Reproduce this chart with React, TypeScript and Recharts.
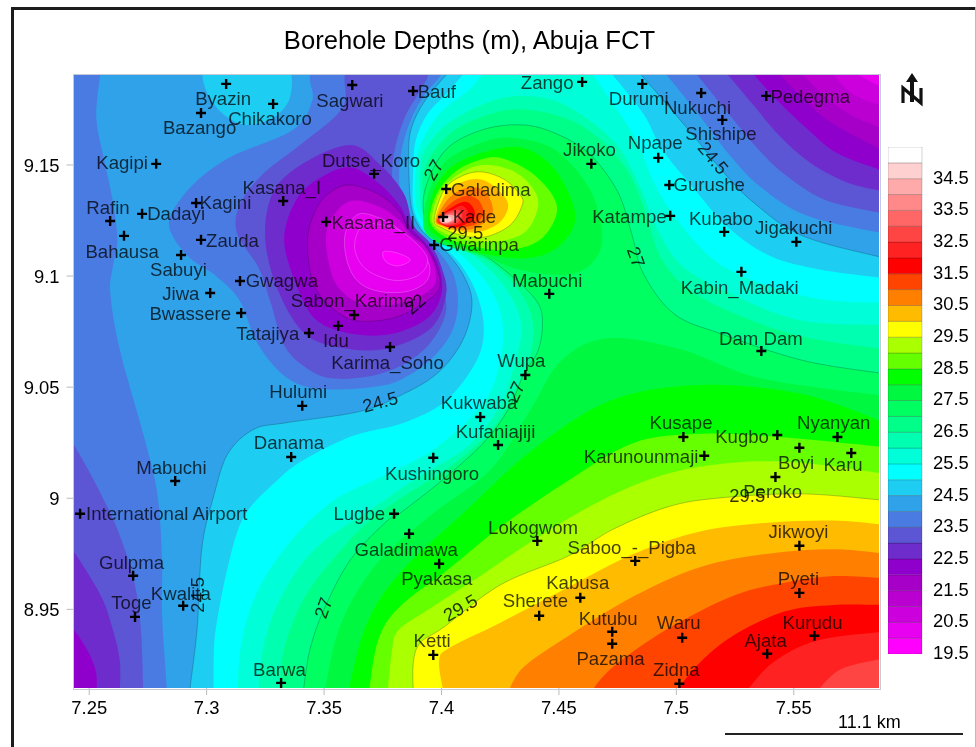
import * as React from 'react';
import { ScatterChart, Scatter, XAxis, YAxis, BarChart, Bar } from 'recharts';

type Pt = [number, number];

const FONT = '"Liberation Sans", Arial, sans-serif';

const lonTicks = [7.25, 7.3, 7.35, 7.4, 7.45, 7.5, 7.55];
const latTicks = [8.95, 9, 9.05, 9.1, 9.15];
const legendTicks = [19.5, 20.5, 21.5, 22.5, 23.5, 24.5, 25.5, 26.5, 27.5, 28.5, 29.5, 30.5, 31.5, 32.5, 33.5, 34.5];

// one colour per 0.5 m class, shallowest first
const classColors = [
  '#ff00ff', '#e800f0', '#cc00dd', '#b900d0', '#a600c8', '#9000cc', '#6f2ccc', '#5c55d4',
  '#4a7be2', '#30a2ea', '#1ecdf2', '#00ffff', '#00ffd8', '#00ffb0', '#00ff88', '#00ff60',
  '#00f840', '#00ff00', '#66ff00', '#aaff00', '#ffff00', '#ffbb00', '#ff8000', '#ff4400',
  '#ff0000', '#ff2222', '#ff4444', '#ff6666', '#ff8888', '#ffaaaa', '#ffd0d0', '#ffffff',
];

const siteNames = [
  'Byazin', 'Chikakoro', 'Bazango', 'Sagwari', 'Bauf', 'Zango', 'Durumi', 'Nukuchi', 'Shishipe', 'Pedegma',
  'Kagipi', 'Jikoko', 'Npape', 'Gurushe', 'Dutse_Koro', 'Kasana_I', 'Galadima', 'Kagini', 'Dadayi', 'Rafin',
  'Kasana_II', 'Kade', 'Katampe', 'Kubabo', 'Jigakuchi', 'Bahausa', 'Zauda', 'Gwarinpa', 'Sabuyi', 'Kabin_Madaki',
  'Gwagwa', 'Mabuchi', 'Jiwa', 'Sabon_Karimo', 'Bwassere', 'Idu', 'Tatajiya', 'Karima_Soho', 'Dam Dam', 'Wupa',
  'Hulumi', 'Kukwaba', 'Kufaniajiji', 'Kusape', 'Kugbo', 'Nyanyan', 'Boyi', 'Karu', 'Karunounmaji', 'Danama',
  'Kushingoro', 'Peroko', 'Mabuchi', 'International Airport', 'Lugbe', 'Galadimawa', 'Lokogwom', 'Jikwoyi', 'Saboo_-_Pigba', 'Pyakasa',
  'Gulpma', 'Kabusa', 'Pyeti', 'Sherete', 'Kwalita', 'Toge', 'Kutubu', 'Waru', 'Kurudu', 'Pazama',
  'Ketti', 'Ajata', 'Zidna', 'Barwa',
];
const siteLon = [
  7.3083, 7.3283, 7.2976, 7.362, 7.3879, 7.4599, 7.4855, 7.5106, 7.5196, 7.5383,
  7.2785, 7.4638, 7.4923, 7.497, 7.3713, 7.3326, 7.402, 7.2955, 7.2725, 7.2589,
  7.3509, 7.4007, 7.4974, 7.5204, 7.5511, 7.2648, 7.2976, 7.3969, 7.2891, 7.5277,
  7.3142, 7.4459, 7.3015, 7.3628, 7.3147, 7.356, 7.3436, 7.3781, 7.5362, 7.4357,
  7.3407, 7.4165, 7.4241, 7.503, 7.543, 7.5686, 7.5524, 7.5745, 7.5119, 7.336,
  7.3965, 7.5422, 7.2866, 7.2461, 7.3798, 7.3862, 7.4408, 7.5524, 7.4825, 7.399,
  7.2687, 7.4591, 7.5524, 7.4416, 7.29, 7.2695, 7.4727, 7.5025, 7.5588, 7.4727,
  7.3965, 7.5387, 7.5013, 7.3317,
];
const siteLat = [
  9.1865, 9.1775, 9.1734, 9.186, 9.1833, 9.1874, 9.1865, 9.1824, 9.1703, 9.1811,
  9.1505, 9.1505, 9.1532, 9.141, 9.146, 9.1338, 9.1392, 9.1329, 9.128, 9.1248,
  9.1244, 9.1266, 9.1271, 9.1199, 9.1154, 9.1181, 9.1163, 9.114, 9.1095, 9.1019,
  9.0978, 9.092, 9.0924, 9.0825, 9.0834, 9.0776, 9.0744, 9.0681, 9.0663, 9.0555,
  9.0416, 9.0366, 9.024, 9.0276, 9.0285, 9.0276, 9.0227, 9.0204, 9.0191, 9.0186,
  9.0182, 9.0096, 9.0078, 8.993, 8.993, 8.984, 8.9808, 8.9786, 8.9718, 8.9705,
  8.9651, 8.9552, 8.9574, 8.9471, 8.9516, 8.9466, 8.9399, 8.9372, 8.9381, 8.9345,
  8.9295, 8.93, 8.9165, 8.9169,
];
const labelLon = [
  7.307, 7.327, 7.297, 7.361, 7.398, 7.445, 7.484, 7.509, 7.519, 7.557,
  7.264, 7.463, 7.491, 7.514, 7.37, 7.332, 7.421, 7.308, 7.287, 7.258,
  7.371, 7.414, 7.48, 7.519, 7.55, 7.264, 7.311, 7.416, 7.288, 7.527,
  7.332, 7.445, 7.289, 7.362, 7.293, 7.355, 7.326, 7.377, 7.536, 7.434,
  7.339, 7.416, 7.423, 7.502, 7.528, 7.567, 7.551, 7.571, 7.485, 7.335,
  7.396, 7.541, 7.285, 7.283, 7.365, 7.385, 7.439, 7.552, 7.481, 7.398,
  7.268, 7.458, 7.552, 7.44, 7.289, 7.268, 7.471, 7.501, 7.558, 7.472,
  7.396, 7.538, 7.5, 7.331,
];
const labelLat = [
  9.18, 9.171, 9.167, 9.179, 9.183, 9.187, 9.18, 9.176, 9.164, 9.181,
  9.151, 9.157, 9.16, 9.141, 9.152, 9.14, 9.139, 9.133, 9.128, 9.131,
  9.124, 9.127, 9.127, 9.126, 9.122, 9.111, 9.116, 9.114, 9.103, 9.095,
  9.098, 9.098, 9.092, 9.089, 9.083, 9.071, 9.074, 9.061, 9.072, 9.062,
  9.048, 9.043, 9.03, 9.034, 9.028, 9.034, 9.016, 9.015, 9.019, 9.025,
  9.011, 9.003, 9.014, 8.993, 8.993, 8.977, 8.987, 8.985, 8.978, 8.964,
  8.971, 8.962, 8.964, 8.954, 8.957, 8.953, 8.946, 8.944, 8.944, 8.928,
  8.936, 8.936, 8.923, 8.923,
];

const contourTexts = ['27', '29.5', '22', '24.5', '27', '24.5', '27', '29.5', '29.5', '24.5', '27'];
const contourLon = [7.3965, 7.4101, 7.3888, 7.3739, 7.4314, 7.5157, 7.4829, 7.5302, 7.408, 7.2959, 7.3496];
const contourLat = [9.1478, 9.1195, 9.0875, 9.0434, 9.0479, 9.1532, 9.1086, 9.0011, 8.9507, 8.9565, 8.9507];
const contourAngles = [-60, 0, -40, -15, -65, 50, 70, 0, -30, -90, -70];

// map corners, a little outside the plot so the clip cuts them
const topLeft: Pt = [7.238, 9.198];
const topRight: Pt = [7.592, 9.198];
const bottomLeft: Pt = [7.238, 8.908];
const bottomRight: Pt = [7.592, 8.908];

// contours of the shallow side, [lon, lat]
const below25West: Pt[] = [[7.303, 8.912], [7.303, 8.927], [7.304, 8.942], [7.309, 8.969], [7.316, 8.992], [7.33, 9.008], [7.341, 9.017], [7.362, 9.028], [7.384, 9.034], [7.402, 9.044], [7.415, 9.062], [7.418, 9.077], [7.415, 9.092], [7.409, 9.104], [7.402, 9.112], [7.396, 9.116], [7.391, 9.123], [7.388, 9.132], [7.388, 9.148], [7.389, 9.161], [7.394, 9.173], [7.402, 9.182], [7.411, 9.193]];
const below245West: Pt[] = [[7.293, 8.912], [7.293, 8.915], [7.296, 8.942], [7.298, 8.978], [7.303, 9.001], [7.309, 9.02], [7.32, 9.031], [7.334, 9.034], [7.365, 9.039], [7.382, 9.046], [7.398, 9.056], [7.409, 9.071], [7.413, 9.088], [7.409, 9.101], [7.401, 9.112], [7.394, 9.118], [7.39, 9.123], [7.387, 9.132], [7.386, 9.152], [7.387, 9.166], [7.393, 9.179], [7.404, 9.193]];
const below24Strip: Pt[] = [[7.255, 9.193], [7.253, 9.172], [7.256, 9.154], [7.26, 9.134], [7.262, 9.116], [7.26, 9.104], [7.259, 9.092], [7.263, 9.067], [7.273, 9.029], [7.279, 9.002], [7.281, 8.972], [7.281, 8.948], [7.283, 8.915], [7.283, 8.912]];
const below24Blob: Pt[] = [[7.346, 9.193], [7.345, 9.179], [7.337, 9.166], [7.311, 9.154], [7.295, 9.142], [7.285, 9.128], [7.285, 9.119], [7.293, 9.108], [7.304, 9.1], [7.314, 9.089], [7.321, 9.071], [7.33, 9.058], [7.34, 9.051], [7.353, 9.049], [7.37, 9.05], [7.382, 9.053], [7.395, 9.062], [7.404, 9.074], [7.407, 9.087], [7.405, 9.101], [7.398, 9.112], [7.393, 9.117], [7.387, 9.123], [7.383, 9.132], [7.382, 9.148], [7.384, 9.161], [7.388, 9.173], [7.393, 9.182], [7.399, 9.193], [7.374, 9.197]];
const below235Blob: Pt[] = [[7.36, 9.193], [7.358, 9.176], [7.341, 9.16], [7.324, 9.146], [7.314, 9.132], [7.313, 9.119], [7.322, 9.104], [7.327, 9.089], [7.333, 9.069], [7.342, 9.059], [7.353, 9.054], [7.37, 9.055], [7.385, 9.061], [7.396, 9.071], [7.402, 9.085], [7.399, 9.101], [7.394, 9.112], [7.39, 9.118], [7.385, 9.124], [7.38, 9.132], [7.379, 9.148], [7.381, 9.161], [7.385, 9.173], [7.39, 9.182], [7.394, 9.193], [7.378, 9.197]];
const below23Blob: Pt[] = [[7.361, 9.159], [7.374, 9.15], [7.384, 9.137], [7.388, 9.123], [7.395, 9.115], [7.4, 9.104], [7.402, 9.092], [7.396, 9.077], [7.379, 9.068], [7.362, 9.067], [7.343, 9.073], [7.331, 9.092], [7.325, 9.116], [7.328, 9.137], [7.34, 9.15]];
const below225Blob: Pt[] = [[7.361, 9.149], [7.373, 9.142], [7.382, 9.132], [7.387, 9.122], [7.394, 9.114], [7.399, 9.104], [7.4, 9.092], [7.394, 9.081], [7.379, 9.074], [7.362, 9.074], [7.347, 9.08], [7.339, 9.094], [7.333, 9.116], [7.338, 9.134], [7.348, 9.144]];
const below22Blob: Pt[] = [[7.361, 9.141], [7.373, 9.137], [7.382, 9.129], [7.386, 9.121], [7.393, 9.114], [7.398, 9.104], [7.399, 9.094], [7.391, 9.087], [7.379, 9.081], [7.363, 9.08], [7.352, 9.087], [7.345, 9.098], [7.343, 9.117], [7.347, 9.131], [7.353, 9.138]];
const below215Blob: Pt[] = [[7.363, 9.134], [7.374, 9.131], [7.382, 9.125], [7.387, 9.118], [7.393, 9.113], [7.397, 9.104], [7.397, 9.096], [7.389, 9.09], [7.378, 9.087], [7.365, 9.088], [7.356, 9.095], [7.352, 9.106], [7.351, 9.12], [7.356, 9.13]];
const below21Blob: Pt[] = [[7.365, 9.128], [7.376, 9.125], [7.383, 9.12], [7.391, 9.112], [7.395, 9.104], [7.393, 9.097], [7.385, 9.093], [7.374, 9.093], [7.365, 9.097], [7.36, 9.106], [7.359, 9.119]];
const below205Blob: Pt[] = [[7.367, 9.123], [7.379, 9.122], [7.388, 9.116], [7.394, 9.108], [7.391, 9.101], [7.382, 9.098], [7.373, 9.1], [7.366, 9.105], [7.363, 9.114]];
const below20Blob: Pt[] = [[7.3752, 9.1109], [7.3811, 9.1104], [7.3867, 9.1073], [7.3816, 9.1046], [7.3764, 9.1064]];

const below235SW: Pt[] = [[7.241, 9.029], [7.243, 9.025], [7.252, 9.008], [7.262, 8.986], [7.269, 8.963], [7.272, 8.941], [7.273, 8.912]];
const below23SW: Pt[] = [[7.241, 8.977], [7.244, 8.975], [7.255, 8.956], [7.26, 8.941], [7.263, 8.927], [7.263, 8.912]];
const below225SW: Pt[] = [[7.241, 8.942], [7.244, 8.94], [7.25, 8.93], [7.253, 8.921], [7.253, 8.912]];

const below25NE: Pt[] = [[7.471, 9.193], [7.486, 9.173], [7.494, 9.157], [7.507, 9.14], [7.522, 9.122], [7.54, 9.109], [7.561, 9.103], [7.589, 9.099]];
const below245NE: Pt[] = [[7.483, 9.193], [7.497, 9.176], [7.509, 9.161], [7.519, 9.148], [7.533, 9.133], [7.554, 9.118], [7.589, 9.108]];
const below24NE: Pt[] = [[7.494, 9.193], [7.51, 9.172], [7.523, 9.154], [7.536, 9.14], [7.556, 9.127], [7.589, 9.119]];
const below235NE: Pt[] = [[7.507, 9.193], [7.52, 9.176], [7.535, 9.157], [7.547, 9.145], [7.564, 9.134], [7.589, 9.128]];
const below23NE: Pt[] = [[7.52, 9.193], [7.532, 9.178], [7.544, 9.163], [7.557, 9.151], [7.573, 9.142], [7.589, 9.138]];
const below225NE: Pt[] = [[7.531, 9.193], [7.543, 9.179], [7.556, 9.166], [7.569, 9.155], [7.589, 9.147]];
const below22NE: Pt[] = [[7.542, 9.193], [7.553, 9.181], [7.566, 9.169], [7.589, 9.156]];
const below215NE: Pt[] = [[7.552, 9.193], [7.563, 9.181], [7.575, 9.172], [7.589, 9.166]];
const below21NE: Pt[] = [[7.565, 9.193], [7.575, 9.182], [7.589, 9.176]];
const below205NE: Pt[] = [[7.573, 9.193], [7.589, 9.184]];

const byazinRise: Pt[] = [[7.299, 9.193], [7.3, 9.183], [7.307, 9.173], [7.317, 9.168], [7.328, 9.171], [7.335, 9.179], [7.336, 9.191], [7.331, 9.197], [7.31, 9.197]];

// contours of the deep side
const above255: Pt[] = [[7.313, 8.912], [7.315, 8.936], [7.322, 8.959], [7.336, 8.981], [7.354, 8.999], [7.377, 9.011], [7.398, 9.023], [7.418, 9.043], [7.425, 9.062], [7.426, 9.079], [7.421, 9.094], [7.411, 9.107], [7.402, 9.114], [7.398, 9.116], [7.393, 9.123], [7.389, 9.132], [7.389, 9.148], [7.391, 9.159], [7.399, 9.173], [7.412, 9.184], [7.421, 9.193], [7.442, 9.196], [7.461, 9.193], [7.472, 9.179], [7.483, 9.161], [7.491, 9.141], [7.502, 9.123], [7.519, 9.105], [7.544, 9.094], [7.566, 9.089], [7.589, 9.088]];
const above26: Pt[] = [[7.322, 8.912], [7.324, 8.932], [7.331, 8.954], [7.346, 8.977], [7.37, 8.995], [7.391, 9.01], [7.412, 9.024], [7.425, 9.042], [7.431, 9.06], [7.434, 9.078], [7.427, 9.095], [7.414, 9.109], [7.403, 9.114], [7.399, 9.115], [7.394, 9.123], [7.391, 9.132], [7.391, 9.148], [7.393, 9.157], [7.402, 9.168], [7.417, 9.177], [7.432, 9.181], [7.448, 9.179], [7.463, 9.17], [7.476, 9.157], [7.485, 9.139], [7.491, 9.123], [7.502, 9.105], [7.523, 9.092], [7.553, 9.08], [7.589, 9.078]];
const above265: Pt[] = [[7.331, 8.912], [7.333, 8.932], [7.341, 8.954], [7.355, 8.974], [7.373, 8.993], [7.402, 9.013], [7.42, 9.029], [7.429, 9.044], [7.437, 9.062], [7.439, 9.078], [7.434, 9.092], [7.421, 9.106], [7.405, 9.113], [7.401, 9.115], [7.395, 9.123], [7.393, 9.132], [7.392, 9.144], [7.396, 9.155], [7.406, 9.166], [7.421, 9.173], [7.435, 9.175], [7.453, 9.171], [7.468, 9.161], [7.48, 9.146], [7.487, 9.128], [7.494, 9.107], [7.508, 9.092], [7.532, 9.08], [7.557, 9.072], [7.589, 9.067]];
const above27: Pt[] = [[7.341, 8.912], [7.344, 8.932], [7.35, 8.95], [7.361, 8.972], [7.376, 8.989], [7.382, 8.993], [7.399, 9.007], [7.418, 9.025], [7.429, 9.041], [7.435, 9.056], [7.441, 9.066], [7.443, 9.078], [7.441, 9.088], [7.431, 9.099], [7.417, 9.11], [7.405, 9.113], [7.397, 9.116], [7.393, 9.124], [7.393, 9.139], [7.402, 9.157], [7.418, 9.166], [7.435, 9.168], [7.449, 9.164], [7.463, 9.155], [7.475, 9.138], [7.481, 9.119], [7.486, 9.101], [7.499, 9.083], [7.519, 9.074], [7.554, 9.062], [7.589, 9.056]];
const above275: Pt[] = [[7.35, 8.912], [7.357, 8.943], [7.372, 8.97], [7.395, 8.992], [7.421, 9.013], [7.438, 9.04], [7.451, 9.062], [7.471, 9.072], [7.502, 9.067], [7.536, 9.054], [7.589, 9.046]];
const above28: Pt[] = [[7.36, 8.912], [7.368, 8.943], [7.382, 8.966], [7.411, 8.995], [7.439, 9.022], [7.472, 9.044], [7.51, 9.051], [7.553, 9.047], [7.589, 9.034]];
const above285: Pt[] = [[7.369, 8.912], [7.373, 8.936], [7.382, 8.951], [7.404, 8.969], [7.425, 8.987], [7.454, 9.008], [7.482, 9.025], [7.51, 9.029], [7.539, 9.028], [7.589, 9.023]];
const above29: Pt[] = [[7.377, 8.912], [7.379, 8.932], [7.382, 8.941], [7.396, 8.951], [7.418, 8.966], [7.439, 8.981], [7.468, 8.999], [7.496, 9.011], [7.524, 9.016], [7.553, 9.016], [7.589, 9.011]];
const above295: Pt[] = [[7.388, 8.912], [7.388, 8.926], [7.391, 8.935], [7.401, 8.942], [7.425, 8.961], [7.454, 8.974], [7.473, 8.986], [7.496, 8.996], [7.517, 9.0], [7.553, 9.002], [7.589, 8.999]];
const above30: Pt[] = [[7.401, 8.912], [7.399, 8.927], [7.404, 8.933], [7.425, 8.944], [7.454, 8.96], [7.482, 8.975], [7.51, 8.985], [7.539, 8.989], [7.567, 8.99], [7.589, 8.988]];
const above305: Pt[] = [[7.428, 8.912], [7.435, 8.924], [7.454, 8.938], [7.482, 8.956], [7.51, 8.969], [7.539, 8.975], [7.567, 8.977], [7.589, 8.975]];
const above31: Pt[] = [[7.463, 8.912], [7.473, 8.924], [7.496, 8.941], [7.524, 8.956], [7.546, 8.962], [7.567, 8.965], [7.589, 8.964]];
const above315: Pt[] = [[7.499, 8.912], [7.51, 8.926], [7.524, 8.938], [7.546, 8.949], [7.567, 8.952], [7.589, 8.952]];
const above32: Pt[] = [[7.529, 8.912], [7.541, 8.926], [7.56, 8.936], [7.589, 8.94]];
const above325: Pt[] = [[7.559, 8.912], [7.57, 8.923], [7.589, 8.928]];

// closed contours round the deep spot at Kade
const kade275: Pt[] = [[7.3926, 9.1208], [7.3943, 9.1365], [7.4016, 9.1514], [7.4165, 9.1599], [7.4305, 9.1622], [7.4484, 9.1568], [7.4633, 9.1388], [7.4685, 9.1172], [7.4633, 9.105], [7.4518, 9.1005], [7.4335, 9.1028], [7.4165, 9.1095], [7.4016, 9.114]];
const kade28: Pt[] = [[7.3943, 9.123], [7.396, 9.1365], [7.4037, 9.1487], [7.4186, 9.1559], [7.4348, 9.1577], [7.4484, 9.1478], [7.457, 9.1275], [7.4506, 9.114], [7.4378, 9.1082], [7.4207, 9.1095], [7.4058, 9.114], [7.3986, 9.1176]];
const kade285: Pt[] = [[7.3952, 9.1244], [7.3977, 9.1365], [7.4058, 9.1469], [7.4165, 9.1523], [7.425, 9.1532], [7.4378, 9.1469], [7.4472, 9.1365], [7.4489, 9.1275], [7.442, 9.1163], [7.4293, 9.1118], [7.4144, 9.1131], [7.4016, 9.1176]];
const kade29: Pt[] = [[7.396, 9.1253], [7.3994, 9.1379], [7.408, 9.1464], [7.4178, 9.15], [7.4293, 9.1478], [7.4378, 9.141], [7.4412, 9.132], [7.4357, 9.1199], [7.4229, 9.1154], [7.4101, 9.1163], [7.4003, 9.1199]];
const kade295: Pt[] = [[7.3969, 9.1253], [7.4011, 9.1388], [7.4088, 9.1451], [7.4173, 9.1469], [7.4271, 9.1433], [7.4335, 9.1365], [7.4344, 9.132], [7.4293, 9.123], [7.4186, 9.1176], [7.408, 9.1185], [7.4003, 9.1217]];
const kade30: Pt[] = [[7.3973, 9.1253], [7.4024, 9.1379], [7.4101, 9.1428], [7.4173, 9.1433], [7.4241, 9.1388], [7.4284, 9.132], [7.425, 9.1244], [7.4165, 9.1199], [7.4071, 9.1203], [7.4007, 9.1221]];
const kade305: Pt[] = [[7.3977, 9.1253], [7.4033, 9.1352], [7.4109, 9.1397], [7.4178, 9.1388], [7.4216, 9.132], [7.4207, 9.1262], [7.4131, 9.1212], [7.4058, 9.1212], [7.4007, 9.1226]];
const kade31: Pt[] = [[7.3982, 9.1253], [7.4041, 9.1329], [7.4109, 9.1361], [7.4156, 9.1343], [7.4178, 9.1289], [7.4148, 9.1235], [7.4071, 9.1217], [7.4011, 9.1226]];
const kade315: Pt[] = [[7.3986, 9.1257], [7.4046, 9.1311], [7.4101, 9.1334], [7.4135, 9.1307], [7.4139, 9.1262], [7.4088, 9.1226], [7.4028, 9.1221]];
const kade32: Pt[] = [[7.3986, 9.1257], [7.4046, 9.1298], [7.4088, 9.1316], [7.4114, 9.1284], [7.4101, 9.1248], [7.4046, 9.1226], [7.4007, 9.1235]];
const kade325: Pt[] = [[7.3986, 9.1257], [7.4028, 9.1289], [7.4071, 9.1298], [7.4088, 9.1271], [7.4067, 9.1239], [7.4016, 9.123]];
const kade33: Pt[] = [[7.399, 9.1257], [7.4024, 9.128], [7.4063, 9.1284], [7.4071, 9.1262], [7.4046, 9.1239], [7.4007, 9.1235]];
const kade335: Pt[] = [[7.3994, 9.1257], [7.4024, 9.1275], [7.4054, 9.1271], [7.4054, 9.1253], [7.4028, 9.1239], [7.4003, 9.1239]];
const kade34: Pt[] = [[7.4003, 9.1257], [7.4024, 9.1266], [7.4041, 9.1262], [7.4037, 9.1248], [7.4011, 9.1244]];

interface Layer {
  curve: Pt[];
  corners?: Pt[]; // straight closing run; none means a closed smooth loop
  color: number; // index into classColors
  line?: string;
}

const DARK = 'rgba(0,40,50,0.38)';
const PALE = 'rgba(255,255,255,0.3)';

const layers: Layer[] = [
  { curve: [topLeft, topRight, bottomRight, bottomLeft], corners: [], color: 11 },
  { curve: above255, corners: [bottomRight], color: 12 },
  { curve: above26, corners: [bottomRight], color: 13 },
  { curve: above265, corners: [bottomRight], color: 14 },
  { curve: above27, corners: [bottomRight], color: 15, line: DARK },
  { curve: above275, corners: [bottomRight], color: 16 },
  { curve: kade275, color: 16 },
  { curve: above28, corners: [bottomRight], color: 17 },
  { curve: kade28, color: 17 },
  { curve: above285, corners: [bottomRight], color: 18 },
  { curve: kade285, color: 18 },
  { curve: above29, corners: [bottomRight], color: 19 },
  { curve: kade29, color: 19 },
  { curve: above295, corners: [bottomRight], color: 20, line: DARK },
  { curve: kade295, color: 20, line: DARK },
  { curve: above30, corners: [bottomRight], color: 21 },
  { curve: kade30, color: 21 },
  { curve: above305, corners: [bottomRight], color: 22 },
  { curve: kade305, color: 22 },
  { curve: above31, corners: [bottomRight], color: 23 },
  { curve: kade31, color: 23 },
  { curve: above315, corners: [bottomRight], color: 24 },
  { curve: kade315, color: 24 },
  { curve: above32, corners: [bottomRight], color: 25 },
  { curve: kade32, color: 25 },
  { curve: above325, corners: [bottomRight], color: 26 },
  { curve: kade325, color: 26 },
  { curve: kade33, color: 27 },
  { curve: kade335, color: 29 },
  { curve: kade34, color: 30 },
  { curve: below25West, corners: [topLeft, bottomLeft], color: 10 },
  { curve: below25NE, corners: [topRight], color: 10 },
  { curve: below245West, corners: [topLeft, bottomLeft], color: 9, line: DARK },
  { curve: below245NE, corners: [topRight], color: 9, line: DARK },
  { curve: byazinRise, color: 10 },
  { curve: below24Strip, corners: [bottomLeft, topLeft], color: 8 },
  { curve: below24Blob, color: 8 },
  { curve: below24NE, corners: [topRight], color: 8 },
  { curve: below235SW, corners: [bottomLeft], color: 7 },
  { curve: below235Blob, color: 7 },
  { curve: below235NE, corners: [topRight], color: 7 },
  { curve: below23SW, corners: [bottomLeft], color: 6 },
  { curve: below23Blob, color: 6 },
  { curve: below23NE, corners: [topRight], color: 6 },
  { curve: below225SW, corners: [bottomLeft], color: 5 },
  { curve: below225Blob, color: 5 },
  { curve: below225NE, corners: [topRight], color: 5 },
  { curve: below22Blob, color: 4, line: 'rgba(40,0,60,0.4)' },
  { curve: below22NE, corners: [topRight], color: 4 },
  { curve: below215Blob, color: 2 },
  { curve: below215NE, corners: [topRight], color: 3 },
  { curve: below21Blob, color: 1, line: PALE },
  { curve: below21NE, corners: [topRight], color: 2 },
  { curve: below205Blob, color: 1, line: PALE },
  { curve: below205NE, corners: [topRight], color: 1 },
  { curve: below20Blob, color: 0, line: PALE },
];

const toRows = (pts: Pt[]) => pts.map(([lon, lat]) => ({ lon, lat }));

const siteRows = siteNames.map((name, i) => ({ name, lon: siteLon[i], lat: siteLat[i] }));
const labelRows = siteNames.map((name, i) => ({ name, lon: labelLon[i], lat: labelLat[i] }));
const contourRows = contourTexts.map((name, i) => ({ name, lon: contourLon[i], lat: contourLat[i], angle: contourAngles[i] }));

const legendRow: Record<string, number | string> = { name: 'depth' };
classColors.forEach((_, i) => { legendRow[`c${i}`] = i === 0 ? 19.95 : 0.5; });

// catmull-rom through the vertices, so the bands read as smooth contours
function smoothPath(pts: { x: number; y: number }[], closed: boolean): string {
  const n = pts.length;
  const at = (i: number) => (closed ? pts[(i + n) % n] : pts[Math.max(0, Math.min(n - 1, i))]);
  let d = `M${pts[0].x},${pts[0].y}`;
  const last = closed ? n : n - 1;
  for (let i = 0; i < last; i++) {
    const p0 = at(i - 1), p1 = at(i), p2 = at(i + 1), p3 = at(i + 2);
    d += `C${p1.x + (p2.x - p0.x) / 6},${p1.y + (p2.y - p0.y) / 6} ${p2.x - (p3.x - p1.x) / 6},${p2.y - (p3.y - p1.y) / 6} ${p2.x},${p2.y}`;
  }
  return d;
}

function bandRenderer(layer: Layer) {
  const count = layer.curve.length;
  return (props: any) => {
    const pts = props.points as { x: number; y: number }[];
    if (!pts || pts.length < 2) return <g />;
    const closed = !layer.corners;
    const edge = closed ? smoothPath(pts, true) + 'Z' : smoothPath(pts.slice(0, count), false);
    const rest = closed ? '' : pts.slice(count).map(p => `L${p.x},${p.y}`).join('') + 'Z';
    return (
      <g>
        <path d={edge + rest} fill={classColors[layer.color]} stroke="none" />
        {layer.line && <path d={edge} fill="none" stroke={layer.line} strokeWidth={0.7} />}
      </g>
    );
  };
}

const NoMark = () => <g />;

const SiteCross = (props: any) => (
  <path
    d={`M${props.cx - 5},${props.cy}H${props.cx + 5}M${props.cx},${props.cy - 5}V${props.cy + 5}`}
    stroke="#000"
    strokeWidth={2.4}
    fill="none"
  />
);

const SiteLabel = (props: any) => (
  <text
    x={props.cx}
    y={props.cy}
    textAnchor="middle"
    dominantBaseline="central"
    fontFamily={FONT}
    fontSize={18.6}
    fill="#000"
    fillOpacity={0.74}
  >
    {props.payload.name}
  </text>
);

const ContourLabel = (props: any) => (
  <text
    x={props.cx}
    y={props.cy}
    textAnchor="middle"
    dominantBaseline="central"
    fontFamily={FONT}
    fontSize={18.4}
    fill="#000"
    fillOpacity={0.8}
    transform={`rotate(${props.payload.angle} ${props.cx} ${props.cy})`}
  >
    {props.payload.name}
  </text>
);

const tickStyle = { fontSize: 18.4, fill: '#000', fontFamily: FONT };

export default function App() {
  return (
    <div style={{ position: 'absolute', left: 0, top: 0, width: 976, height: 747, background: '#fff', overflow: 'hidden', filter: 'blur(0.45px)' }}>
      {/* page frame */}
      <div style={{ position: 'absolute', left: 11, top: 7, width: 3, height: 740, background: '#1c1c1c' }} />
      <div style={{ position: 'absolute', left: 11, top: 7, width: 965, height: 3, background: '#1c1c1c' }} />
      <div style={{ position: 'absolute', left: 975, top: 7, width: 1, height: 740, background: '#bbb' }} />

      <div style={{ position: 'absolute', left: 0, top: 26, width: 939, textAlign: 'center', fontFamily: FONT, fontSize: 25.6, color: '#000' }}>
        Borehole Depths (m), Abuja FCT
      </div>

      <ScatterChart width={976} height={747} margin={{ top: 75, right: 97, bottom: 29, left: 33.5 }} style={{ position: 'absolute', left: 0, top: 0 }}>
        <XAxis
          type="number"
          dataKey="lon"
          domain={[7.2433, 7.5863]}
          allowDataOverflow
          ticks={lonTicks}
          tickFormatter={String}
          height={30}
          interval={0}
          tick={tickStyle}
          tickSize={7}
          tickMargin={6}
          tickLine={{ stroke: '#bbb' }}
          axisLine={false}
        />
        <YAxis
          type="number"
          dataKey="lat"
          domain={[8.9146, 9.1905]}
          allowDataOverflow
          ticks={latTicks}
          tickFormatter={String}
          width={40}
          interval={0}
          tick={tickStyle}
          tickSize={7}
          tickMargin={7}
          tickLine={{ stroke: '#bbb' }}
          axisLine={false}
        />
        {layers.map((layer, i) => (
          <Scatter
            key={i}
            data={toRows(layer.curve.concat(layer.corners ?? []))}
            line={bandRenderer(layer)}
            shape={NoMark}
            isAnimationActive={false}
          />
        ))}
        <Scatter data={labelRows} shape={SiteLabel} isAnimationActive={false} />
        <Scatter data={contourRows} shape={ContourLabel} isAnimationActive={false} />
        <Scatter data={siteRows} shape={SiteCross} isAnimationActive={false} />
      </ScatterChart>

      {/* plot outline */}
      <div style={{ position: 'absolute', left: 73, top: 74, width: 806, height: 614, border: '1px solid #c6cad6', pointerEvents: 'none' }} />

      {/* depth key */}
      <BarChart
        width={88}
        height={527}
        data={[legendRow]}
        margin={{ top: 10, right: 0, bottom: 10, left: 0 }}
        barCategoryGap={0}
        style={{ position: 'absolute', left: 888, top: 137 }}
      >
        <XAxis dataKey="name" hide />
        <YAxis
          orientation="right"
          type="number"
          domain={[19.45, 35.45]}
          allowDataOverflow
          ticks={legendTicks}
          tickFormatter={(v: number) => v.toFixed(1)}
          width={54}
          interval={0}
          tick={tickStyle}
          tickLine={false}
          axisLine={false}
          tickMargin={5}
        />
        {classColors.map((color, i) => (
          <Bar
            key={color}
            dataKey={`c${i}`}
            stackId="depth"
            fill={color}
            stroke="rgba(0,0,0,0.25)"
            strokeWidth={0.7}
            isAnimationActive={false}
          />
        ))}
      </BarChart>

      {/* north arrow */}
      <svg width={30} height={36} style={{ position: 'absolute', left: 897, top: 72 }}>
        <path d="M15,1 L9,10 H13 V30 H17 V10 H21 Z" fill="#111" />
        <path d="M6,31 V16 L24,31 V16" fill="none" stroke="#111" strokeWidth={3.2} />
      </svg>

      {/* scale bar */}
      <div style={{ position: 'absolute', left: 725, top: 733, width: 238, height: 2, background: '#222' }} />
      <div style={{ position: 'absolute', left: 838, top: 712, fontFamily: FONT, fontSize: 18, color: '#000' }}>11.1 km</div>
    </div>
  );
}
